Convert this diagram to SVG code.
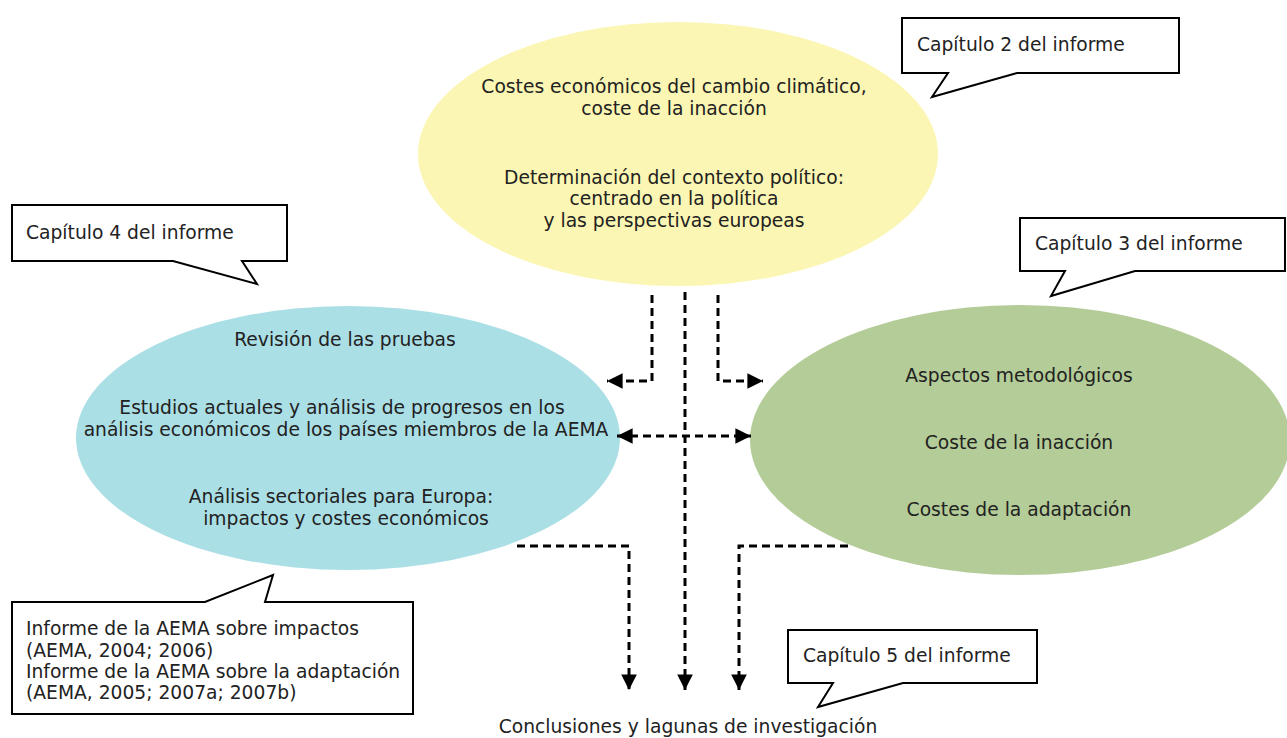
<svg xmlns="http://www.w3.org/2000/svg" width="1287" height="738" viewBox="0 0 1287 738">
<defs>
<style>
text{font-family:"DejaVu Sans",Verdana,sans-serif;font-size:18.7px;fill:#222}
.c{text-anchor:middle}
.call{fill:#fff;stroke:#000;stroke-width:2;stroke-linejoin:miter}
.d{fill:none;stroke:#000;stroke-width:3;stroke-dasharray:8 5}
</style>
<marker id="ah" viewBox="0 0 10 10" refX="10" refY="5" markerWidth="5.2" markerHeight="5.2" orient="auto-start-reverse">
<path d="M0,0 L10,5 L0,10 Z" fill="#000"/>
</marker>
</defs>
<rect width="1287" height="738" fill="#fff"/>
<g id="node-yellow">
<ellipse cx="678" cy="154" rx="260" ry="132" fill="#fbf6b3"/>
<text class="c" x="674" y="93">Costes económicos del cambio climático,</text>
<text class="c" x="674" y="115">coste de la inacción</text>
<text class="c" x="674" y="184">Determinación del contexto político:</text>
<text class="c" x="674" y="205">centrado en la política</text>
<text class="c" x="674" y="227">y las perspectivas europeas</text>
</g>
<g id="node-blue">
<ellipse cx="348" cy="438" rx="272" ry="132" fill="#abdfe6"/>
<text class="c" x="345" y="346">Revisión de las pruebas</text>
<text class="c" x="342" y="414">Estudios actuales y análisis de progresos en los</text>
<text class="c" x="346" y="436">análisis económicos de los países miembros de la AEMA</text>
<text class="c" x="341" y="503">Análisis sectoriales para Europa:</text>
<text class="c" x="346" y="525"> impactos y costes económicos</text>
</g>
<g id="node-green">
<ellipse cx="1020" cy="440" rx="270" ry="135" fill="#b4cc98"/>
<text class="c" x="1019" y="382">Aspectos metodológicos</text>
<text class="c" x="1019" y="449">Coste de la inacción</text>
<text class="c" x="1019" y="516">Costes de la adaptación</text>
</g>
<g id="connectors">
<path class="d" d="M652,295 V381 H607" marker-end="url(#ah)"/>
<path class="d" d="M718,295 V381 H763" marker-end="url(#ah)"/>
<path class="d" d="M685,292 V690" marker-end="url(#ah)"/>
<path class="d" d="M617,436 H751" marker-start="url(#ah)" marker-end="url(#ah)"/>
<path class="d" d="M517,546 H629 V690" marker-end="url(#ah)"/>
<path class="d" d="M848,546 H739 V690" marker-end="url(#ah)"/>
</g>
<g id="callout-2">
<path class="call" d="M902,18 H1179 V73 H1017 L932,97 L948,73 H902 Z"/>
<text x="917" y="51">Capítulo 2 del informe</text>
</g>
<g id="callout-4">
<path class="call" d="M12,205 H287 V261 H242 L257,284 L173,261 H12 Z"/>
<text x="26" y="239">Capítulo 4 del informe</text>
</g>
<g id="callout-3">
<path class="call" d="M1020,218 H1285 V271 H1135 L1051,296 L1065,271 H1020 Z"/>
<text x="1035" y="250">Capítulo 3 del informe</text>
</g>
<g id="callout-refs">
<path class="call" d="M12,602 H205 L273,575 L265,602 H413 V714 H12 Z"/>
<text x="26" y="635">Informe de la AEMA sobre impactos</text>
<text x="26" y="657">(AEMA, 2004; 2006)</text>
<text x="26" y="678">Informe de la AEMA sobre la adaptación</text>
<text x="26" y="699">(AEMA, 2005; 2007a; 2007b)</text>
</g>
<g id="callout-5">
<path class="call" d="M788,630 H1037 V683 H903 L818,707 L833,683 H788 Z"/>
<text x="803" y="662">Capítulo 5 del informe</text>
</g>
<g id="node-conclusions">
<text class="c" x="688" y="733">Conclusiones y lagunas de investigación</text>
</g>
</svg>
